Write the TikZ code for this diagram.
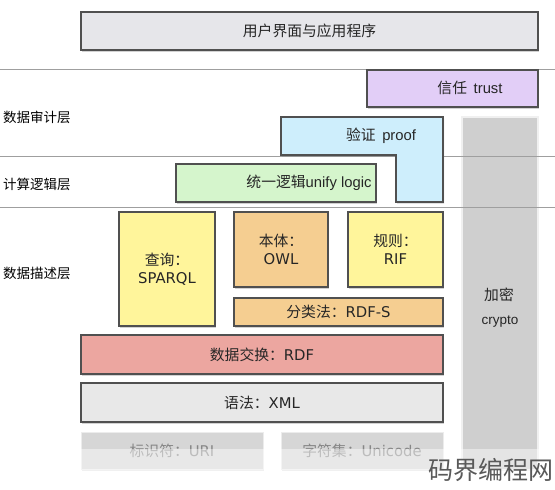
\documentclass[tikz,border=0pt]{standalone}
\usepackage{tikz}
\usepackage{xcolor}
\usepackage{fontspec}
\usetikzlibrary{shadows}
\setmainfont{Noto Sans CJK SC}
\newfontfamily\verd{DejaVu Sans}
\newfontfamily\arial{Liberation Sans}
\newcommand\vlat[1]{{\verd #1}}
\newcommand\alat[1]{{\arial #1}}
\newcommand\boxfont{\fontsize{14.8}{18}\selectfont}
\newcommand\labelfont{\fontsize{13.5}{16}\selectfont}
\definecolor{swgray}{RGB}{230,230,234}
\definecolor{swpurple}{RGB}{226,206,247}
\definecolor{swblue}{RGB}{206,238,252}
\definecolor{swgreen}{RGB}{213,245,204}
\definecolor{swyellow}{RGB}{255,245,155}
\definecolor{sworange}{RGB}{245,206,145}
\definecolor{swred}{RGB}{236,166,160}
\definecolor{swlight}{RGB}{232,232,232}
\definecolor{swcrypto}{RGB}{207,207,207}
\definecolor{swedge}{RGB}{80,80,80}
\tikzstyle{layerbox} = [rectangle, draw=swedge, line width=1.1pt, drop shadow={shadow xshift=1pt, shadow yshift=-1.5pt, opacity=0.35}, align=center, font=\boxfont, text=black!85]
\tikzstyle{fadedbox} = [rectangle, draw=white!85!gray, line width=1pt, fill=gray!32, drop shadow={shadow xshift=1pt, shadow yshift=-1.5pt, opacity=0.2}, align=center, font=\boxfont, text=gray!95]
\tikzstyle{boxlabel} = [font=\boxfont, text=black!85, inner sep=0pt]
\tikzstyle{sidelabel} = [anchor=west, font=\labelfont, inner sep=0pt]
\tikzstyle{divider} = [gray!75, line width=0.8pt]

\begin{document}
\begin{tikzpicture}[x=1pt, y=-1pt]
    \useasboundingbox[fill=white] (0,0) rectangle (555,490);

    % crypto column
    \node[rectangle, draw=white!88!gray, line width=2pt, fill=swcrypto, minimum width=76pt, minimum height=353pt] (crypto) at (500,293.5) {};
    \node[boxlabel] (cryptocn) at (499,295) {加密};
    \node[boxlabel, font=\fontsize{13.5}{16}\selectfont\arial] (cryptoen) at (500,322) {crypto};

    % layer dividers
    \coordinate (d1l) at (0,69);   \coordinate (d1r) at (555,69);
    \coordinate (d2l) at (0,156);  \coordinate (d2r) at (555,156);
    \coordinate (d3l) at (0,207);  \coordinate (d3r) at (555,207);
    \draw[divider] (d1l) -- (d1r);
    \draw[divider] (d2l) -- (d2r);
    \draw[divider] (d3l) -- (d3r);

    \node[sidelabel] (audit) at (3,117) {数据审计层};
    \node[sidelabel] (logiclayer) at (3,184) {计算逻辑层};
    \node[sidelabel] (describe) at (3,273) {数据描述层};

    \node[layerbox, fill=swgray, minimum width=457pt, minimum height=38pt] (app) at (309.5,31) {用户界面与应用程序};

    \node[layerbox, fill=swpurple, minimum width=171pt, minimum height=37pt] (trust) at (452.5,88.5) {};
    \node[boxlabel] (trusttext) at (470,88) {信任\ \ \alat{trust}};

    \draw[draw=swedge, line width=1.1pt, fill=swblue, drop shadow={shadow xshift=1pt, shadow yshift=-1.5pt, opacity=0.35}]
        (281,117) -- (443,117) -- (443,202) -- (396,202) -- (396,155) -- (281,155) -- cycle;
    \node[boxlabel] (prooftext) at (381,136) {验证\ \ \alat{proof}};

    \node[layerbox, fill=swgreen, minimum width=200pt, minimum height=38pt] (unify) at (276,183) {};
    \node[boxlabel] (unifytext) at (309,183) {统一逻辑\alat{unify logic}};

    \node[layerbox, fill=swyellow, minimum width=96pt, minimum height=114pt] (sparql) at (167,269) {查询：\\\vlat{SPARQL}};
    \node[layerbox, fill=sworange, minimum width=94pt, minimum height=75pt] (owl) at (281,249.5) {本体：\\\vlat{OWL}};
    \node[layerbox, fill=swyellow, minimum width=95pt, minimum height=75pt] (rif) at (395.5,249.5) {规则：\\\vlat{RIF}};
    \node[layerbox, fill=sworange, minimum width=209pt, minimum height=28pt] (rdfs) at (338.5,312) {分类法：\vlat{RDF-S}};

    \node[layerbox, fill=swred, minimum width=362pt, minimum height=39pt] (rdf) at (262,354.5) {数据交换：\vlat{RDF}};
    \node[layerbox, fill=swlight, minimum width=362pt, minimum height=39pt] (xml) at (262,402.5) {语法：\vlat{XML}};

    \node[fadedbox, minimum width=182pt, minimum height=37pt] (uri) at (172,450.5) {标识符：\vlat{URI}};
    \node[fadedbox, minimum width=162pt, minimum height=37pt] (unicode) at (362,450.5) {字符集：\vlat{Unicode}};

    % watermark strip
    \fill[white, opacity=0.45] (70,449) rectangle (555,490);
    \node[inner sep=0pt, font=\fontsize{25}{28}\selectfont, text=black!65] (mark) at (491,470) {码界编程网};
\end{tikzpicture}
\end{document}
